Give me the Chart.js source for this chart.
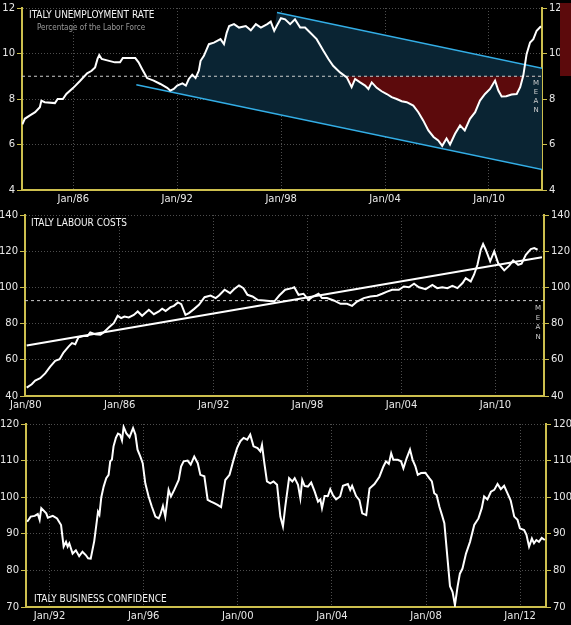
<!DOCTYPE html>
<html>
<head>
<meta charset="utf-8">
<script src="https://cdn.jsdelivr.net/npm/chart.js@4.4.0/dist/chart.umd.min.js"></script>
<style>
  body { margin: 0; background: #000; width: 571px; height: 625px; overflow: hidden; font-family: "DejaVu Sans", sans-serif; }
  canvas { position: absolute; left: 0; }
  .lbl { position: absolute; color: #f4f4f4; font-family: "DejaVu Sans Condensed", "DejaVu Sans", sans-serif; font-size: 10px; white-space: nowrap; line-height: 1; }
  .sub { color: #9a9a9a; font-size: 8px; }
  .mean { position: absolute; color: #cfcfcf; font-size: 7px; text-align: center; width: 10px; line-height: 9px; }
</style>
</head>
<body>
<canvas id="c1" width="571" height="207" style="top:0"></canvas>
<canvas id="c2" width="571" height="206" style="top:207px"></canvas>
<canvas id="c3" width="571" height="212" style="top:413px"></canvas>

<div class="lbl" style="left:29px;top:10px">ITALY UNEMPLOYMENT RATE</div>
<div class="lbl sub" style="left:37px;top:24px">Percentage of the Labor Force</div>
<div class="mean" style="left:531px;top:79px">M<br>E<br>A<br>N</div>
<div style="position:absolute;left:560px;top:3px;width:11px;height:73px;background:#5c0a0c"></div>

<div class="lbl" style="left:31px;top:218px">ITALY LABOUR COSTS</div>
<div class="mean" style="left:533px;top:304px;line-height:9.7px">M<br>E<br>A<br>N</div>

<div class="lbl" style="left:34px;top:594px">ITALY BUSINESS CONFIDENCE</div>

<script>
// unemployment rate (%)
const unempYears = [1983.06, 1983.2, 1983.5, 1983.8, 1984.07, 1984.16, 1984.35, 1984.94, 1985.1, 1985.4,
  1985.6, 1986.0, 1986.4, 1986.8, 1987.06, 1987.26, 1987.4, 1987.5, 1987.64, 1987.9,
  1988.4, 1988.7, 1988.86, 1989.58, 1989.77, 1989.97, 1990.26, 1990.64, 1991.03, 1991.42,
  1991.6, 1991.8, 1992.0, 1992.3, 1992.5, 1992.67, 1992.87, 1993.06, 1993.25, 1993.35,
  1993.54, 1993.83, 1994.12, 1994.5, 1994.7, 1994.86, 1995.0, 1995.28, 1995.57, 1995.96,
  1996.25, 1996.54, 1996.83, 1997.2, 1997.4, 1997.6, 1997.8, 1997.99, 1998.23, 1998.52,
  1998.8, 1999.1, 1999.38, 1999.67, 2000.05, 2000.44, 2000.73, 2001.0, 2001.4, 2001.79,
  2002.07, 2002.27, 2002.56, 2002.85, 2003.04, 2003.23, 2003.52, 2003.8, 2004.1, 2004.38,
  2004.67, 2004.96, 2005.25, 2005.63, 2005.92, 2006.2, 2006.5, 2006.8, 2007.07, 2007.3,
  2007.55, 2007.75, 2008.04, 2008.33, 2008.6, 2008.9, 2009.2, 2009.48, 2009.77, 2010.06,
  2010.35, 2010.54, 2010.73, 2011.0, 2011.3, 2011.6, 2011.8, 2011.98, 2012.17, 2012.37,
  2012.56, 2012.75, 2013.0];
const unempValues = [6.88, 7.13, 7.28, 7.42, 7.64, 7.93, 7.86, 7.82, 8.0, 8.0,
  8.22, 8.49, 8.8, 9.13, 9.24, 9.39, 9.76, 9.93, 9.76, 9.71,
  9.61, 9.61, 9.8, 9.8, 9.61, 9.32, 8.92, 8.81, 8.66, 8.49,
  8.37, 8.44, 8.59, 8.69, 8.59, 8.88, 9.07, 8.92, 9.25, 9.68,
  9.9, 10.41, 10.48, 10.63, 10.41, 10.92, 11.21, 11.29, 11.14, 11.21,
  11.02, 11.29, 11.14, 11.29, 11.4, 11.0, 11.29, 11.55, 11.5, 11.29,
  11.5, 11.14, 11.14, 10.92, 10.63, 10.12, 9.76, 9.46, 9.17, 8.95,
  8.52, 8.88, 8.73, 8.59, 8.44, 8.73, 8.49, 8.34, 8.22, 8.08,
  8.0, 7.9, 7.86, 7.71, 7.42, 7.06, 6.62, 6.33, 6.18, 5.94,
  6.26, 6.0, 6.47, 6.84, 6.62, 7.13, 7.42, 7.93, 8.22, 8.44,
  8.81, 8.37, 8.11, 8.12, 8.2, 8.22, 8.52, 9.03, 9.97, 10.48,
  10.63, 11.0, 11.2];
const unempMean = 9;
const unempLowerX = [1989.64, 2013.09];
const unempLowerY = [8.63, 4.9];
const unempUpperX = [1997.76, 2013.09];
const unempUpperY = [11.8, 9.35];
const unempXTicks = [1986, 1992, 1998, 2004, 2010];

// labour costs
const laborYears = [1980.06, 1980.38, 1980.6, 1980.92, 1981.24, 1981.56, 1981.88, 1982.16, 1982.41, 1982.73,
  1982.95, 1983.16, 1983.37, 1983.69, 1983.95, 1984.12, 1984.44, 1984.76, 1984.97, 1985.3,
  1985.62, 1985.87, 1986.09, 1986.3, 1986.58, 1986.9, 1987.15, 1987.43, 1987.86, 1988.18,
  1988.5, 1988.71, 1988.93, 1989.25, 1989.46, 1989.72, 1989.93, 1990.2, 1990.42, 1990.74,
  1991.06, 1991.42, 1991.8, 1992.13, 1992.34, 1992.7, 1993.05, 1993.3, 1993.62, 1993.9,
  1994.16, 1994.48, 1994.8, 1995.23, 1995.87, 1996.19, 1996.57, 1997.0, 1997.15, 1997.42,
  1997.74, 1998.06, 1998.28, 1998.7, 1998.92, 1999.24, 1999.67, 2000.1, 2000.52, 2000.84,
  2001.16, 2001.59, 2002.01, 2002.44, 2002.76, 2003.08, 2003.4, 2003.83, 2004.15, 2004.47,
  2004.8, 2005.11, 2005.54, 2005.97, 2006.28, 2006.6, 2006.93, 2007.25, 2007.57, 2007.9,
  2008.1, 2008.42, 2008.63, 2008.85, 2009.06, 2009.21, 2009.38, 2009.66, 2009.92, 2010.17,
  2010.56, 2010.88, 2011.13, 2011.45, 2011.67, 2011.94, 2012.26, 2012.48, 2012.69];
const laborValues = [44.6, 46.5, 48.5, 49.8, 52.5, 56.2, 59.4, 60.3, 64.0, 67.3,
  69.2, 68.6, 72.5, 73.2, 73.2, 75.1, 74.1, 73.8, 75.1, 77.8,
  80.2, 84.3, 83.0, 83.9, 83.4, 84.8, 86.7, 84.3, 87.6, 85.2,
  86.7, 88.2, 87.0, 89.1, 89.8, 91.7, 90.7, 84.8, 85.8, 88.0,
  90.4, 94.6, 95.5, 94.1, 95.5, 98.7, 96.8, 99.0, 101.1, 99.6,
  95.9, 95.0, 93.1, 92.8, 92.2, 95.5, 98.7, 99.6, 100.1, 95.9,
  96.5, 93.1, 94.6, 96.5, 94.1, 94.1, 92.8, 90.9, 90.9, 89.8,
  92.2, 94.1, 95.0, 95.4, 96.5, 97.7, 98.7, 98.7, 100.5, 100.1,
  102.0, 100.1, 99.0, 101.4, 99.6, 100.1, 99.6, 100.9, 99.6, 102.4,
  105.1, 103.3, 107.0, 112.5, 120.8, 124.0, 120.8, 114.4, 119.9, 113.4,
  109.4, 112.0, 114.9, 112.5, 113.1, 118.0, 121.2, 121.7, 120.8];
const laborMean = 92.7;
const laborTrendX = [1980.06, 2012.97];
const laborTrendY = [67.9, 116.6];
const laborXTicks = [1980, 1986, 1992, 1998, 2004, 2010];

// business confidence
const confYears = [1991.05, 1991.2, 1991.37, 1991.5, 1991.58, 1991.65, 1991.86, 1991.93, 1992.14, 1992.32,
  1992.49, 1992.6, 1992.7, 1992.77, 1992.84, 1992.98, 1993.12, 1993.26, 1993.4, 1993.54,
  1993.64, 1993.75, 1993.9, 1994.0, 1994.06, 1994.12, 1994.2, 1994.3, 1994.41, 1994.51,
  1994.58, 1994.65, 1994.72, 1994.82, 1994.91, 1995.0, 1995.08, 1995.15, 1995.26, 1995.4,
  1995.55, 1995.65, 1995.74, 1995.86, 1995.96, 1996.07, 1996.21, 1996.35, 1996.5, 1996.64,
  1996.71, 1996.82, 1996.92, 1997.06, 1997.16, 1997.3, 1997.49, 1997.59, 1997.7, 1997.87,
  1998.0, 1998.15, 1998.3, 1998.41, 1998.58, 1998.72, 1998.86, 1999.0, 1999.14, 1999.29,
  1999.47, 1999.65, 1999.82, 1999.97, 2000.11, 2000.25, 2000.4, 2000.53, 2000.67, 2000.84,
  2000.96, 2001.03, 2001.13, 2001.24, 2001.38, 2001.52, 2001.67, 2001.81, 2001.92, 2002.02,
  2002.18, 2002.32, 2002.42, 2002.56, 2002.66, 2002.74, 2002.84, 2002.98, 2003.12, 2003.27,
  2003.41, 2003.51, 2003.58, 2003.69, 2003.83, 2003.93, 2004.04, 2004.18, 2004.35, 2004.47,
  2004.68, 2004.78, 2004.86, 2005.03, 2005.17, 2005.29, 2005.46, 2005.6, 2005.81, 2006.02,
  2006.19, 2006.3, 2006.42, 2006.52, 2006.61, 2006.8, 2006.94, 2007.04, 2007.18, 2007.32,
  2007.43, 2007.55, 2007.65, 2007.79, 2007.97, 2008.14, 2008.25, 2008.35, 2008.45, 2008.57,
  2008.68, 2008.78, 2008.92, 2009.02, 2009.13, 2009.23, 2009.34, 2009.44, 2009.55, 2009.7,
  2009.87, 2010.05, 2010.23, 2010.37, 2010.47, 2010.61, 2010.76, 2010.9, 2011.04, 2011.18,
  2011.32, 2011.46, 2011.6, 2011.75, 2011.89, 2011.99, 2012.17, 2012.27, 2012.38, 2012.5,
  2012.59, 2012.69, 2012.8, 2012.92, 2013.05];
const confValues = [93.3, 94.7, 94.9, 95.4, 93.8, 97.0, 95.6, 94.4, 94.9, 94.2,
  92.4, 86.5, 87.8, 86.5, 87.4, 84.6, 85.5, 83.9, 85.1, 84.2,
  83.3, 83.2, 88.0, 93.0, 96.0, 95.2, 100.0, 102.9, 105.2, 106.1,
  109.8, 110.2, 113.9, 116.2, 117.4, 117.1, 115.5, 119.2, 117.5, 116.4,
  118.9, 117.1, 113.0, 111.1, 109.3, 103.8, 100.2, 97.4, 94.7, 94.2,
  95.2, 97.6, 94.7, 102.0, 100.2, 102.0, 104.7, 108.4, 109.8, 110.0,
  108.9, 111.1, 109.3, 106.1, 105.7, 99.3, 98.8, 98.4, 97.9, 97.3,
  104.7, 106.1, 110.2, 113.4, 115.3, 116.2, 115.7, 117.1, 113.9, 113.4,
  112.5, 114.3, 109.3, 104.3, 103.8, 104.3, 103.4, 94.7, 92.0, 97.5,
  105.2, 104.3, 105.2, 103.4, 99.7, 104.7, 103.1, 102.9, 104.0, 101.5,
  98.8, 99.4, 97.0, 100.3, 100.3, 102.2, 100.6, 99.4, 100.2, 103.1,
  103.6, 102.0, 103.1, 100.3, 99.2, 95.6, 95.1, 102.4, 103.6, 105.6,
  108.4, 109.8, 109.1, 112.0, 110.2, 110.2, 109.8, 107.9, 110.7, 113.0,
  110.2, 108.4, 106.1, 106.6, 106.7, 105.2, 104.3, 101.1, 100.6, 97.4,
  95.1, 92.9, 82.8, 75.7, 74.1, 70.5, 75.5, 79.1, 80.5, 84.6,
  87.8, 92.4, 94.2, 97.0, 100.2, 99.4, 101.5, 102.0, 103.6, 102.2,
  103.1, 101.1, 99.1, 94.7, 93.8, 91.5, 91.0, 89.7, 86.5, 88.7,
  87.4, 88.3, 87.8, 88.9, 88.3];
const confXTicks = [1992, 1996, 2000, 2004, 2008, 2012];

const axisColor = "#cdbf4e";
const gridColor = "#4d4d4d";
const labelColor = "#e8e8e8";
const tickFont = { family: "DejaVu Sans", size: 10 };

const toPoints = (xs, ys) => xs.map((x, i) => ({ x: x, y: ys[i] }));

//opciones comunes para los tres paneles
const makeOptions = (cfg) => {
  const yAxis = (pos, w) => ({
    position: pos,
    min: cfg.yMin,
    max: cfg.yMax,
    afterFit: (s) => { s.width = w; },
    ticks: { stepSize: cfg.yStep, color: labelColor, font: tickFont, padding: 2 },
    grid: { color: gridColor, drawOnChartArea: pos === "left", tickColor: axisColor, tickLength: 5, tickBorderDash: [] },
    border: { color: axisColor, width: 2, dash: [1, 2] }
  });
  return {
    responsive: false,
    animation: false,
    layout: { padding: { top: cfg.padTop, left: 0, right: 0, bottom: 0 } },
    plugins: { legend: { display: false }, tooltip: { enabled: false } },
    elements: { point: { radius: 0 }, line: { tension: 0 } },
    scales: {
      x: {
        type: "linear",
        min: cfg.xMin,
        max: cfg.xMax,
        afterBuildTicks: (s) => { s.ticks = cfg.xTicks.map((v) => ({ value: v })); },
        afterFit: (s) => { s.height = cfg.bottomH; },
        ticks: { color: labelColor, font: tickFont, padding: 3, maxRotation: 0, autoSkip: false,
          callback: (v) => "Jan/" + String(v).slice(2) },
        grid: { color: gridColor, drawTicks: false },
        border: { color: axisColor, width: 2, dash: [1, 2] }
      },
      y: yAxis("left", cfg.leftW),
      y2: yAxis("right", cfg.rightW)
    }
  };
};

const whiteLine = (data) => ({ data: data, borderColor: "#ffffff", borderWidth: 2, fill: false });
const meanLine = (xs, v) => ({ data: toPoints(xs, [v, v]), borderColor: "#cccccc", borderWidth: 1, borderDash: [3, 3], fill: false });

// panel 1
const unempPts = toPoints(unempYears, unempValues);
const x1 = [1983.04, 2013.06];
const redPart = unempPts.filter((p) => p.x >= 2001.5);
const channelTop = unempPts.filter((p) => p.x >= 1991.6 && p.x < unempUpperX[0]).concat(toPoints(unempUpperX, unempUpperY));

new Chart(document.getElementById("c1"), {
  type: "line",
  data: {
    datasets: [
      whiteLine(unempPts),
      meanLine(x1, unempMean),
      { data: toPoints(unempLowerX, unempLowerY), borderColor: "#33aee6", borderWidth: 1.5, fill: false },
      { data: toPoints(unempUpperX, unempUpperY), borderColor: "#33aee6", borderWidth: 1.5, fill: false },
      { data: redPart, borderWidth: 0, borderColor: "transparent",
        fill: { target: { value: unempMean }, above: "transparent", below: "#5c0a0c" } },
      { data: channelTop, borderWidth: 0, borderColor: "transparent",
        fill: { target: 2, above: "#0a2433", below: "transparent" } }
    ]
  },
  options: makeOptions({ xMin: x1[0], xMax: x1[1], xTicks: unempXTicks, yMin: 4, yMax: 12, yStep: 2,
    leftW: 22, rightW: 29, bottomH: 17, padTop: 7 })
});

// panel 2
const x2 = [1979.95, 2013.1];
new Chart(document.getElementById("c2"), {
  type: "line",
  data: {
    datasets: [
      whiteLine(toPoints(laborYears, laborValues)),
      whiteLine(toPoints(laborTrendX, laborTrendY)),
      meanLine(x2, laborMean)
    ]
  },
  options: makeOptions({ xMin: x2[0], xMax: x2[1], xTicks: laborXTicks, yMin: 40, yMax: 140, yStep: 20,
    leftW: 25, rightW: 27, bottomH: 17, padTop: 8 })
});

// panel 3
new Chart(document.getElementById("c3"), {
  type: "line",
  data: { datasets: [whiteLine(toPoints(confYears, confValues))] },
  options: makeOptions({ xMin: 1991.0, xMax: 2013.1, xTicks: confXTicks, yMin: 70, yMax: 120, yStep: 10,
    leftW: 26, rightW: 25, bottomH: 18, padTop: 11 })
});
</script>
</body>
</html>
